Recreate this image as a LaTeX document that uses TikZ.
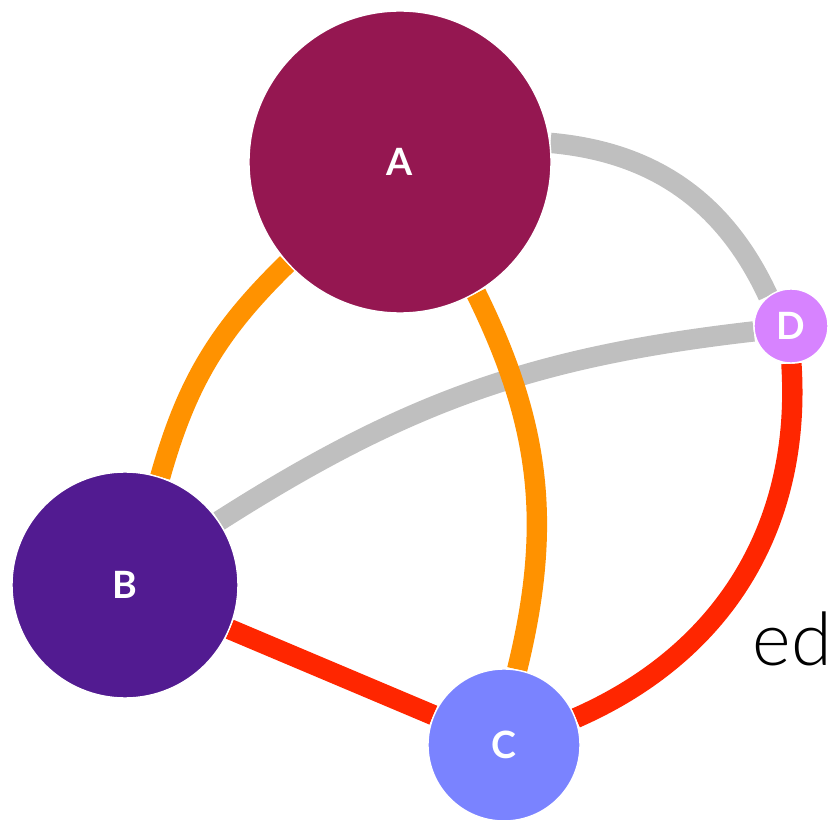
\documentclass[tikz,border=0pt]{standalone}
\usepackage{fontspec}
\setmainfont{Lato}
\newfontfamily\lightfont{Lato}[UprightFont=* Light]
\usetikzlibrary{backgrounds}

\definecolor{vertexA}{HTML}{951751}
\definecolor{vertexB}{HTML}{521B91}
\definecolor{vertexC}{HTML}{7A83FF}
\definecolor{vertexD}{HTML}{D783FF}
\definecolor{edgegray}{HTML}{BFBFBF}
\definecolor{edgeorange}{HTML}{FF9200}
\definecolor{edgered}{HTML}{FF2600}

\tikzset{
  vertex/.style={circle, draw=white, line width=0.4pt, text=white, inner sep=0pt,
    font=\bfseries\fontsize{10.7}{12}\selectfont},
  link/.style={line width=5.8pt},
}

\begin{document}
\begin{tikzpicture}
		\useasboundingbox (0,0) rectangle (8.28,8.19);
		% Вершины
		\node[vertex, fill=vertexA, minimum size=3.02cm] (A) at (4.00,6.57) {A};
		\node[vertex, fill=vertexB, minimum size=2.26cm] (B) at (1.25,2.34) {B};
		\node[vertex, fill=vertexC, minimum size=1.52cm] (C) at (5.04,0.74) {C};
		\node[vertex, fill=vertexD, minimum size=0.74cm] (D) at (7.91,4.93) {D};
		
		% Рёбра под вершинами
		\begin{pgfonlayer}{background}
		\draw[link, edgegray] (A) to[bend left=30] (D);
		\draw[link, edgegray] (B) to[bend left=13] (D);
		\draw[link, edgeorange] (B) to[bend left=15] (A);
		\draw[link, edgeorange] (A) to[bend left=20] (C);
		\draw[link, edgered] (B) -- (C);
		\draw[link, edgered] (D) to[bend left=35] (C);
		\end{pgfonlayer}
		
		\node[anchor=base west, inner sep=0pt, font=\lightfont\fontsize{21}{25}\selectfont] (tag) at (7.52,1.54) {ed};
\end{tikzpicture}
\end{document}
